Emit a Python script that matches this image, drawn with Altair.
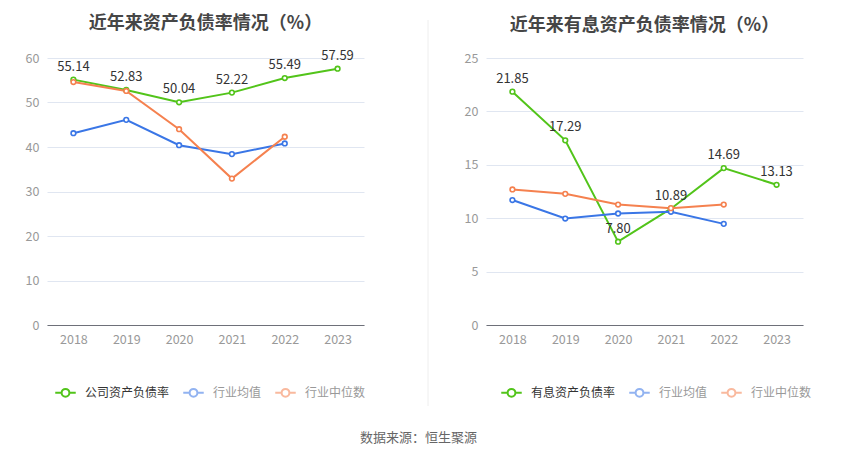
import altair as alt
import pandas as pd

years = ["2018", "2019", "2020", "2021", "2022", "2023"]

# Left panel: 资产负债率
left_title = "近年来资产负债率情况（%）"
left_company_name = "公司资产负债率"
left_company = [55.14, 52.83, 50.04, 52.22, 55.49, 57.59]
left_mean = [43.1, 46.1, 40.4, 38.4, 40.8, None]
left_median = [54.6, 52.6, 44.0, 32.9, 42.3, None]

# Right panel: 有息资产负债率
right_title = "近年来有息资产负债率情况（%）"
right_company_name = "有息资产负债率"
right_company = [21.85, 17.29, 7.80, 10.89, 14.69, 13.13]
right_mean = [11.7, 9.97, 10.44, 10.6, 9.47, None]
right_median = [12.69, 12.28, 11.28, 10.94, 11.28, None]

mean_name = "行业均值"
median_name = "行业中位数"
source_text = "数据来源：恒生聚源"

FONT = "Noto Sans CJK SC"
GREEN = "#52c41a"
BLUE = "#3a76e6"
ORANGE = "#f5814f"


def long_df(company_name, company, mean, median):
    rows = []
    for name, vals in [(company_name, company), (mean_name, mean), (median_name, median)]:
        for y, v in zip(years, vals):
            if v is not None:
                rows.append({"year": y, "series": name, "value": v,
                             "label": f"{v:.2f}"})
    return pd.DataFrame(rows)


SYMBOL = ("M-1,0L-0.38,0M0.38,0L1,0"
          "M-0.38,0A0.38,0.38,0,1,1,0.38,0A0.38,0.38,0,1,1,-0.38,0Z")


def panel(title, company_name, company, mean, median, ymax, ystep, legend_x):
    df = long_df(company_name, company, mean, median)
    domain = [company_name, mean_name, median_name]
    color = alt.Color(
        "series:N",
        scale=alt.Scale(domain=domain, range=[GREEN, BLUE, ORANGE]),
        sort=domain,
        legend=alt.Legend(
            title=None, orient="none", legendX=legend_x, legendY=323,
            direction="horizontal",
            symbolType=SYMBOL, symbolSize=420, symbolStrokeWidth=2,
            symbolFillColor="white", labelFont=FONT, labelFontSize=12,
            labelColor=alt.ExprRef(f"datum.value === '{company_name}' ? '#333333' : '#999999'"),
            symbolOpacity=alt.ExprRef(f"datum.value === '{company_name}' ? 1 : 0.55"),
            columnPadding=9, labelOffset=8,
        ),
    )
    xscale = alt.Scale(type="point", domain=years, padding=0.5)
    x = alt.X("year:N", sort=years, title=None, scale=xscale,
              axis=alt.Axis(labelAngle=0, ticks=False, grid=False,
                            domainColor="#6e7079", labelColor="#999999",
                            labelFont=FONT, labelFontSize=12.5, labelPadding=8))
    y = alt.Y("value:Q", title=None,
              scale=alt.Scale(domain=[0, ymax], nice=False),
              axis=alt.Axis(values=list(range(0, ymax + 1, ystep)), domain=False,
                            ticks=False, gridColor="#e0e6f1", labelColor="#999999",
                            labelFont=FONT, labelFontSize=12.5, labelPadding=8))
    base = alt.Chart(df).encode(x=x, y=y, color=color)
    lines = base.mark_line(strokeWidth=2)
    pts = base.mark_point(filled=False, fill="white", fillOpacity=1, size=22,
                          strokeWidth=1.6, opacity=1)
    labels = alt.Chart(df).transform_filter(
        alt.datum.series == company_name
    ).mark_text(dy=-13, font=FONT, fontSize=13, color="#333333").encode(
        x=alt.X("year:N", sort=years, scale=xscale),
        y=alt.Y("value:Q"),
        text="label:N",
    )
    return alt.layer(lines, pts, labels).properties(
        width=317, height=267,
        title=alt.TitleParams(title, fontSize=18, fontWeight="bold", color="#464646",
                              font=FONT, anchor="middle", offset=17),
    )


left = panel(left_title, left_company_name, left_company, left_mean, left_median, 60, 10, 7)
right = panel(right_title, right_company_name, right_company, right_mean, right_median, 25, 5, 14)

divider = alt.Chart(pd.DataFrame({"d": [0]})).mark_rule(
    color="#eeeeee", strokeWidth=1
).encode(x=alt.value(42), y=alt.value(-38), y2=alt.value(348)).properties(width=58, height=267)

chart = alt.hconcat(left, divider, right, spacing=20).resolve_scale(
    color="independent"
).properties(
    title=alt.TitleParams(source_text, orient="bottom", anchor="middle", fontSize=13,
                          fontWeight="normal", color="#666666", font=FONT, offset=25),
    padding={"left": 17, "top": 6, "right": 5, "bottom": 0},
).configure_view(stroke=None)

chart.save("out.html", embed_options={"renderer": "svg", "actions": False})
